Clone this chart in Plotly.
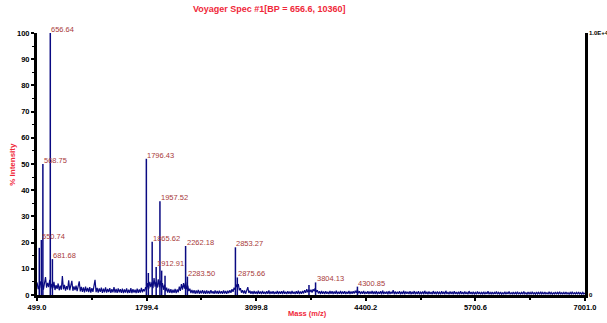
import plotly.graph_objects as go

# Labelled and unlabelled peaks: m/z and % intensity
peak_mz = [526.0, 550.74, 568.75, 656.64, 681.68, 1796.43, 1820.0, 1865.62, 1912.91,
           1957.52, 1978.0, 2018.0, 2262.18, 2283.50, 2853.27, 2875.66, 3726.0,
           3804.13, 4300.85]
peak_int = [18.0, 21.0, 50.0, 100.0, 13.7, 52.0, 8.4, 20.3, 10.7,
            35.8, 9.3, 7.3, 18.7, 7.0, 18.2, 6.7, 3.8,
            4.8, 3.2]
labelled_mz = [550.74, 568.75, 656.64, 681.68, 1796.43, 1865.62, 1912.91, 1957.52,
               2262.18, 2283.50, 2853.27, 2875.66, 3804.13, 4300.85]

# Baseline noise sampled every 12.5 Da from m/z 500 to 7000 (% intensity),
# one row per 500 Da
noise_start = 500.0
noise_step = 12.5
noise_int = [
    4.8, 2.2, 3.5, 5.2, 2.6, 4.9, 2.0, 5.5, 6.8, 2.8, 4.6, 3.0, 5.8, 2.4, 4.2, 2.6, 5.0, 1.9, 3.8, 2.3,
    4.4, 1.8, 3.6, 2.0, 7.2, 2.2, 3.9, 1.7, 3.4, 2.1, 5.6, 1.8, 3.5, 5.4, 1.6, 3.3, 1.9, 3.6, 1.5, 3.0,
    5.2, 1.4, 3.1, 1.2, 2.9, 1.0, 3.2, 1.3, 2.7, 1.1, 3.0, 0.9, 2.6, 1.2, 3.4, 5.8, 1.1, 2.7, 0.9, 2.5,
    1.2, 2.8, 0.8, 2.4, 1.0, 2.9, 0.9, 2.3, 1.1, 2.6, 0.8, 2.2, 1.0, 3.0, 0.9, 2.3, 0.8, 2.5, 1.0, 2.2,
    0.8, 2.4, 0.7, 2.1, 0.9, 2.5, 0.7, 2.0, 0.8, 2.6, 0.7, 2.2, 0.9, 2.0, 0.7, 2.4, 0.8, 2.1, 0.9, 2.7,
    1.0, 2.2, 1.4, 3.0, 2.0, 4.5, 2.4, 5.0, 3.0, 4.8, 2.6, 6.5, 3.2, 5.0, 2.8, 6.0, 3.0, 5.5, 2.5, 4.5,
    2.0, 4.0, 1.4, 2.8, 0.9, 2.4, 0.8, 2.2, 0.7, 2.0, 0.8, 2.3, 0.7, 2.1, 1.0, 3.2, 1.6, 4.2, 2.0, 4.5,
    2.4, 5.0, 2.2, 3.6, 1.5, 2.4, 0.7, 1.9, 0.6, 1.8, 0.5, 1.7, 0.6, 1.9, 0.5, 1.6, 0.6, 1.8, 0.5, 1.6,
    0.5, 1.7, 0.6, 1.5, 0.5, 1.8, 0.6, 1.4, 0.5, 1.7, 0.6, 1.5, 0.5, 1.6, 0.6, 1.4, 0.5, 1.7, 0.6, 1.5,
    0.5, 1.6, 0.7, 1.8, 0.8, 2.2, 1.2, 2.8, 2.0, 4.0, 3.0, 4.2, 1.8, 2.6, 0.9, 1.8, 0.6, 1.7, 0.5, 1.6,
    3.0, 0.8, 1.6, 0.5, 1.4, 0.4, 1.5, 0.5, 1.3, 0.4, 1.6, 0.5, 1.3, 0.4, 1.5, 0.5, 1.2, 0.4, 1.4, 0.5,
    1.7, 0.4, 1.3, 0.5, 1.4, 0.4, 1.2, 0.5, 1.5, 0.4, 1.3, 0.5, 1.4, 0.4, 1.6, 0.5, 1.2, 0.4, 1.4, 0.5,
    1.3, 0.4, 1.5, 0.5, 1.2, 0.4, 1.4, 0.5, 1.6, 0.4, 1.3, 0.5, 1.5, 0.6, 1.8, 0.8, 2.2, 1.0, 2.0, 1.2,
    2.0, 0.9, 2.2, 1.4, 2.6, 1.2, 1.8, 0.6, 1.4, 0.4, 1.5, 0.5, 1.3, 0.4, 1.4, 0.5, 1.2, 0.4, 1.5, 0.5,
    1.4, 0.4, 1.3, 0.5, 1.6, 0.4, 1.2, 0.5, 1.5, 0.4, 1.3, 0.5, 1.4, 0.4, 1.2, 0.5, 1.5, 0.4, 1.3, 0.5,
    1.4, 0.6, 1.6, 0.8, 2.0, 0.7, 1.4, 0.4, 1.3, 0.5, 1.5, 0.4, 1.2, 0.5, 1.4, 0.4, 1.3, 0.5, 1.5, 0.4,
    1.3, 0.4, 1.5, 0.3, 1.2, 0.5, 1.4, 0.3, 1.7, 0.4, 1.2, 0.5, 1.3, 0.3, 1.5, 0.4, 1.2, 0.5, 1.8, 0.3,
    1.3, 0.4, 1.2, 0.5, 1.4, 0.3, 1.2, 0.4, 1.6, 0.3, 1.3, 0.5, 1.2, 0.4, 1.4, 0.3, 1.2, 0.4, 1.5, 0.3,
    1.2, 0.4, 1.4, 0.3, 1.1, 0.5, 1.3, 0.3, 1.6, 0.4, 1.2, 0.3, 1.3, 0.4, 1.1, 0.3, 1.5, 0.4, 1.2, 0.3,
    1.3, 0.5, 1.1, 0.3, 1.4, 0.4, 1.2, 0.3, 1.6, 0.4, 1.1, 0.3, 1.3, 0.4, 1.2, 0.3, 1.4, 0.4, 1.1, 0.3,
    1.2, 0.3, 1.4, 0.4, 1.1, 0.3, 1.3, 0.4, 1.0, 0.3, 1.5, 0.4, 1.1, 0.3, 1.2, 0.4, 1.0, 0.3, 1.3, 0.4,
    1.1, 0.3, 1.0, 0.4, 1.2, 0.3, 1.0, 0.4, 1.4, 0.3, 1.0, 0.4, 1.1, 0.3, 1.0, 0.4, 1.3, 0.3, 1.0, 0.4,
    1.1, 0.3, 0.9, 0.4, 1.2, 0.3, 1.0, 0.4, 1.3, 0.3, 0.9, 0.4, 1.1, 0.3, 1.0, 0.4, 1.2, 0.3, 0.9, 0.4,
    1.0, 0.3, 1.3, 0.4, 0.9, 0.3, 1.1, 0.4, 1.0, 0.3, 1.2, 0.4, 0.9, 0.3, 1.1, 0.4, 1.0, 0.3, 1.2, 0.4,
    1.0, 0.3, 1.1, 0.4, 0.9, 0.3, 1.2, 0.4, 1.0, 0.3, 0.9, 0.4, 1.1, 0.3, 1.0, 0.4, 1.2, 0.3, 0.9, 0.4,
    1.0, 0.3, 1.1, 0.4, 0.9, 0.3, 1.0, 0.4, 1.2, 0.3, 0.9, 0.4, 1.0, 0.3, 1.1, 0.4, 0.9, 0.3, 1.0, 0.4,
    0.8,
]
noise_mz = [noise_start + i * noise_step for i in range(len(noise_int))]

# Axis ticks
x_ticks = [499.0, 1799.4, 3099.8, 4400.2, 5700.6, 7001.0]
x_minor = [1149.2, 2449.6, 3750.0, 5050.4, 6350.8]
y_ticks = [0, 10, 20, 30, 40, 50, 60, 70, 80, 90, 100]

TRACE = "#0a0a82"
LABEL = "#a83a3a"
RED = "#f0283a"
FONT = "Liberation Sans, Arial, sans-serif"

fig = go.Figure()

# noisy baseline
fig.add_trace(go.Scatter(x=noise_mz, y=noise_int, mode="lines",
                         line=dict(color=TRACE, width=1.2), hoverinfo="skip",
                         showlegend=False))

# peaks as sticks
sx, sy = [], []
for m, h in zip(peak_mz, peak_int):
    sx += [m, m, None]
    sy += [0, h, None]
fig.add_trace(go.Scatter(x=sx, y=sy, mode="lines",
                         line=dict(color=TRACE, width=1.5), hoverinfo="skip",
                         showlegend=False))

# carrier for the right-hand absolute-count axis
fig.add_trace(go.Scatter(x=[x_ticks[0]], y=[0], yaxis="y2", mode="markers",
                         marker=dict(opacity=0), hoverinfo="skip", showlegend=False))

# peak labels
for m, h in zip(peak_mz, peak_int):
    if m in labelled_mz:
        fig.add_annotation(x=m, y=h, text=f"{m:.2f}", showarrow=False,
                           xanchor="left", yanchor="bottom", xshift=-1, yshift=-3,
                           font=dict(family=FONT, size=7.5, color=LABEL))

fig.add_annotation(xref="paper", yref="paper", x=0.425, y=1.092,
                   text="Voyager Spec #1[BP = 656.6, 10360]", showarrow=False,
                   xanchor="center", yanchor="middle",
                   font=dict(family=FONT, size=9, color=RED, weight="bold"))
fig.add_annotation(xref="paper", yref="paper", x=-0.046, y=0.5,
                   text="% Intensity", showarrow=False, textangle=-90,
                   xanchor="center", yanchor="middle",
                   font=dict(family=FONT, size=8, color=RED, weight="bold"))
fig.add_annotation(xref="paper", yref="paper", x=0.493, y=-0.069,
                   text="Mass (m/z)", showarrow=False,
                   xanchor="center", yanchor="middle",
                   font=dict(family=FONT, size=7.5, color=RED, weight="bold"))

tickfont = dict(family=FONT, size=7.5, color="black", weight="bold")

fig.update_layout(
    width=607, height=323,
    margin=dict(l=37, r=22, t=33, b=28, autoexpand=False),
    paper_bgcolor="white", plot_bgcolor="white",
    showlegend=False,
    xaxis=dict(range=[x_ticks[0], x_ticks[-1]], tickvals=x_ticks,
               ticktext=[f"{v:.1f}" for v in x_ticks], automargin=False,
               showline=True, linecolor="black", linewidth=3,
               ticks="outside", ticklen=3, tickwidth=2, tickcolor="black",
               minor=dict(tickvals=x_minor, ticks="outside", ticklen=2,
                          tickwidth=2, tickcolor="black"),
               showgrid=False, zeroline=False, tickfont=tickfont),
    yaxis=dict(range=[0, 100], tickvals=y_ticks, automargin=False,
               showline=True, linecolor="black", linewidth=3,
               ticks="outside", ticklen=3, tickwidth=2, tickcolor="black",
               minor=dict(dtick=5, ticks="outside", ticklen=2,
                          tickwidth=1, tickcolor="black"),
               showgrid=False, zeroline=False, tickfont=tickfont),
    yaxis2=dict(range=[0, 100], overlaying="y", side="right", automargin=False,
                tickvals=[0, 100], ticktext=["0", "1.0E+4"],
                showline=True, linecolor="black", linewidth=2.5,
                ticks="inside", ticklen=3, tickwidth=1.5, tickcolor="black",
                showgrid=False, zeroline=False,
                tickfont=dict(family=FONT, size=6, color="black", weight="bold")),
)

fig.write_html("out.html")
